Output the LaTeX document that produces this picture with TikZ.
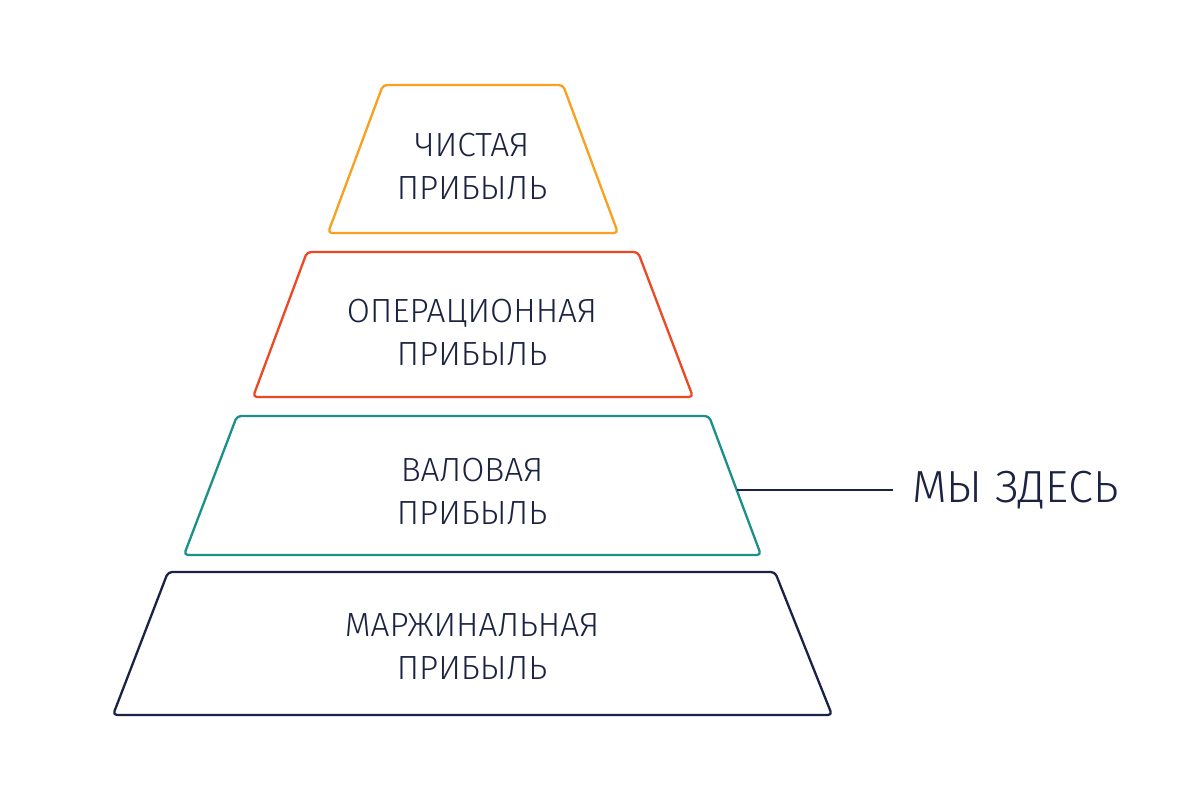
\documentclass[tikz,border=0pt]{standalone}
\usepackage{fontspec}
\setmainfont{Fira Sans}[UprightFont=* Light]
\definecolor{cOrange}{HTML}{F7A11E}
\definecolor{cRed}{HTML}{EE4722}
\definecolor{cTeal}{HTML}{1B9088}
\definecolor{cNavy}{HTML}{1A2347}
\definecolor{cText}{HTML}{1B2340}
\begin{document}
\begin{tikzpicture}[x=1pt,y=-1pt,
  tier/.style={line width=2.3pt, rounded corners=4pt, line join=round},
  tiertext/.style={text=cText, align=center, inner sep=0pt,
    font=\fontsize{33.5}{43}\selectfont},
  herelabel/.style={text=cText, anchor=west, inner ysep=0pt, inner xsep=19pt,
    font=\fontsize{45}{50}\selectfont},
  pointer/.style={draw=cNavy, line width=2.2pt}]
\useasboundingbox[fill=white] (0,0) rectangle (1200,800);
% tiers
\draw[tier, draw=cOrange] (383,85) -- (563,85) -- (618,233) -- (328,233) -- cycle;
\draw[tier, draw=cRed] (307,252) -- (638,252) -- (693,397) -- (253,397) -- cycle;
\draw[tier, draw=cTeal] (237,416) -- (709,416) -- (761,555) -- (184,555) -- cycle;
\draw[tier, draw=cNavy] (168,572) -- (775,572) -- (832,715) -- (113,715) -- cycle;
% texts
\node[tiertext] (t1) at (472,166) {ЧИСТАЯ\\ПРИБЫЛЬ};
\node[tiertext] (t2) at (472,332) {ОПЕРАЦИОННАЯ\\ПРИБЫЛЬ};
\node[tiertext] (t3) at (472,491) {ВАЛОВАЯ\\ПРИБЫЛЬ};
\node[tiertext] (t4) at (472,646.5) {МАРЖИНАЛЬНАЯ\\ПРИБЫЛЬ};
% pointer
\coordinate (edge) at (737,490);
\node[herelabel] (here) at (893,490) {МЫ ЗДЕСЬ};
\draw[pointer] (edge) -- (here.west);
\end{tikzpicture}
\end{document}
